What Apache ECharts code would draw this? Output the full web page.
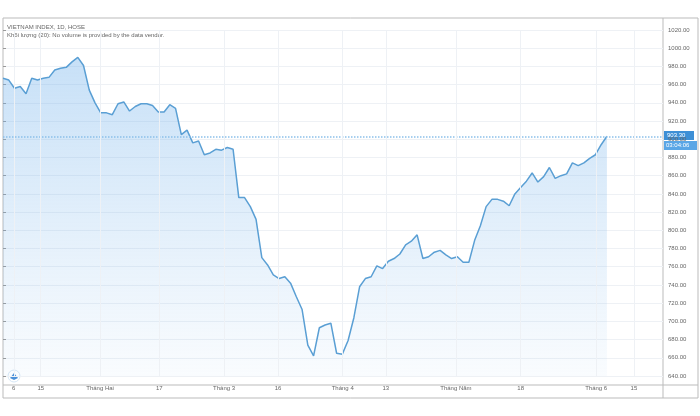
<!DOCTYPE html>
<html>
<head>
<meta charset="UTF-8">
<script src="https://cdn.jsdelivr.net/npm/echarts@6/dist/echarts.min.js"></script>
<style>html,body{margin:0;background:#fff}#main{width:700px;height:416px}</style>
</head>
<body>
<div id="main"></div>
<script>
// giá trị đóng cửa ước lượng từ ảnh
var values = [967,965,956,958,950,967,965,967,968,976,978,979,985,990,981,954,940,929,929,927,
  939,941,931,936,939,939,937,930,930,938,934,905,910,896,898,883,885,889,888,891,
  889,836,836,826,812,770,762,751,747,749,742,727,713,674,662,693,696,698,665,664,
  679,704,738,747,749,761,758,766,769,774,784,788,795,769,771,776,778,773,769,771,
  765,765,789,805,826,834,834,832,827,840,847,854,863,853,859,869,857,860,862,874,
  871,874,879,883,894,903.3];
// vị trí nhãn trục thời gian (chỉ số phiên)
var tickIdx = [2, 7, 18, 29, 41, 51, 63, 71, 84, 96, 110, 117];
var tickText = ['6', '15', 'Tháng Hai', '17', 'Tháng 3', '16', 'Tháng 4', '13', 'Tháng Năm', '18', 'Tháng 6', '15'];
var lastPrice = 903.3;

var series = [];
// dàn đều các phiên trên trục
for (var j = 0; j < values.length; j++) {
  series.push([+(j * (112 / (values.length - 1))).toFixed(2), values[j]]);
}
function labelFor(v) {
  var k = tickIdx.indexOf(Math.round(v));
  return k >= 0 ? tickText[k] : '';
}

var myChart = echarts.init(document.getElementById('main'));
var option = {
  animation: false,
  grid: { left: 3, right: 37, top: 30, bottom: 40 },
  xAxis: {
    type: 'value', min: 0, max: 122.4,
    axisLine: { show: false }, axisTick: { show: false },
    splitLine: { show: false },
    axisLabel: { show: false }
  },
  yAxis: {
    type: 'value', position: 'right', min: 640, max: 1020, interval: 20,
    axisLine: { show: false },
    axisTick: { show: true, length: 3, lineStyle: { color: '#999' } },
    axisLabel: { fontSize: 6, color: '#666', margin: 5, formatter: function (v) { return v.toFixed(2); } },
    splitLine: { lineStyle: { color: '#eef1f5' } }
  },
  series: [
    {
      type: 'line', data: series, symbol: 'none',
      lineStyle: { color: '#5a9fd4', width: 1.5 },
      areaStyle: { origin: 'start', color: new echarts.graphic.LinearGradient(0, 0, 0, 1, [
        { offset: 0, color: 'rgba(110,175,235,0.55)' },
        { offset: 1, color: 'rgba(120,180,235,0.06)' }]) },
      markLine: {
        symbol: 'none', silent: true,
        lineStyle: { color: '#8cc0ea', type: 'dotted', width: 1.5 },
        label: { show: false },
        data: [{ yAxis: lastPrice }]
      }
    },
    {
      // đường lưới dọc theo nhãn trục thời gian
      type: 'line', data: [], markLine: {
        symbol: 'none', silent: true,
        lineStyle: { color: '#eef1f5', type: 'solid', width: 1 },
        label: { show: true, position: 'start', distance: 9, fontSize: 6, color: '#666',
          formatter: function (p) { return labelFor(p.value); } },
        data: tickIdx.map(function (t) { return { xAxis: t }; })
      }
    }
  ],
  graphic: [
    { type: 'rect', shape: { x: 3, y: 18, width: 695, height: 380 }, style: { fill: 'none', stroke: '#bbb', lineWidth: 1 } },
    { type: 'line', shape: { x1: 3, y1: 385, x2: 698, y2: 385 }, style: { stroke: '#bbb', lineWidth: 1 } },
    { type: 'line', shape: { x1: 663, y1: 18, x2: 663, y2: 398 }, style: { stroke: '#bbb', lineWidth: 1 } },
    { type: 'text', left: 7, top: 24, style: { text: 'VIETNAM INDEX, 1D, HOSE', fontSize: 6, fill: '#666' } },
    { type: 'text', left: 7, top: 32, style: { text: 'Khối lượng (20): No volume is provided by the data vendor.', fontSize: 6, fill: '#666' } },
    { type: 'rect', shape: { x: 664, y: 131, width: 30, height: 9 }, style: { fill: '#3d8fd6' } },
    { type: 'text', left: 667, top: 132, style: { text: lastPrice.toFixed(2), fontSize: 6, fill: '#fff' } },
    { type: 'rect', shape: { x: 664, y: 141, width: 33, height: 9 }, style: { fill: '#5aa6e6' } },
    { type: 'text', left: 666, top: 142, style: { text: '03:04:06', fontSize: 6, fill: '#fff' } },
    { type: 'circle', shape: { cx: 14, cy: 376, r: 6 }, style: { fill: '#fff', stroke: '#d5e6f5' } },
    { type: 'polygon', shape: { points: [[10, 378], [14, 373], [18, 378], [14, 380]] }, style: { fill: '#4a90d9' } }
  ]
};
myChart.setOption(option);
</script>
</body>
</html>
